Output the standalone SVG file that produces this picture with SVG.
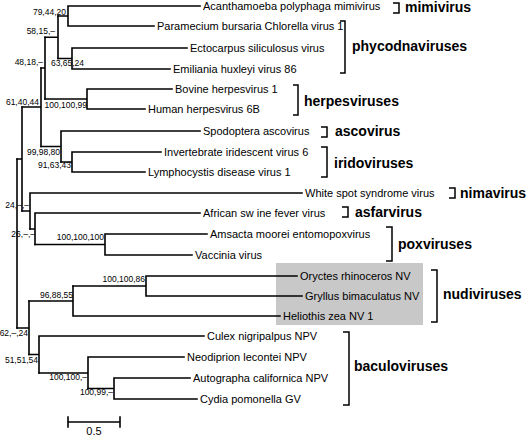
<svg xmlns="http://www.w3.org/2000/svg" width="528" height="438" viewBox="0 0 528 438">
<style>
.br{fill:none;stroke:#000;stroke-width:1.6;stroke-linecap:square}
.bk{fill:none;stroke:#000;stroke-width:1.5}
.lf{font-family:"Liberation Sans",Arial,sans-serif;font-size:11px;fill:#000}
.bs{font-family:"Liberation Sans",Arial,sans-serif;font-size:8.5px;fill:#000;text-anchor:end}
.cl{font-family:"Liberation Sans",Arial,sans-serif;font-size:14px;font-weight:bold;fill:#000}
</style>
<rect x="0" y="0" width="528" height="438" fill="#fff"/>
<rect id="nudi-box" x="276" y="263" width="147" height="62" fill="#c8c8c8"/>
<g id="connectors" class="br">
<path d="M17,159 V328"/>
<path d="M17,159 H22 M22,107 V211"/>
<path d="M22,107 H41 M41,68 V146.5"/>
<path d="M41,68 H45 M45,37.25 V99"/>
<path d="M45,37.25 H58 M58,16 V58.5"/>
<path d="M58,16 H68 M68,6 V26 M68,6 H200 M68,26 H154"/>
<path d="M58,58.5 H72 M72,48 V69 M72,48 H187 M72,69 H170"/>
<path d="M45,99 H87 M87,89 V109 M87,89 H172 M87,109 H145"/>
<path d="M41,146.5 H61 M61,131 V162 M61,131 H200"/>
<path d="M61,162 H72 M72,152 V172 M72,152 H161 M72,172 H145"/>
<path d="M22,211 H30 M30,193 V229 M30,193 H302"/>
<path d="M30,229 H35 M35,213 V244.5 M35,213 H200"/>
<path d="M35,244.5 H105 M105,234 V255 M105,234 H207 M105,255 H192"/>
<path d="M17,328 H29 M29,301 V354.5"/>
<path d="M29,301 H73 M73,286 V316 M73,316 H280"/>
<path d="M73,286 H146 M146,276 V296 M146,276 H297 M146,296 H302"/>
<path d="M29,354.5 H39 M39,336 V373 M39,336 H204"/>
<path d="M39,373 H88 M88,357 V388.5 M88,357 H184"/>
<path d="M88,388.5 H114 M114,378 V399 M114,378 H190 M114,399 H197"/>
</g>
<g id="support-values">
<text class="bs" x="66" y="15">79,44,20</text>
<text class="bs" x="55" y="34">58,15,–</text>
<text class="bs" x="43" y="65">48,18,–</text>
<text class="bs" x="84" y="66">63,65,24</text>
<text class="bs" x="39" y="105">61,40,44</text>
<text class="bs" x="87" y="108">100,100,99</text>
<text class="bs" x="60" y="155">99,98,80</text>
<text class="bs" x="71" y="168">91,63,43</text>
<text class="bs" x="29" y="208">24,–,–</text>
<text class="bs" x="35" y="237">26,–,–</text>
<text class="bs" x="104" y="240">100,100,100</text>
<text class="bs" x="145" y="282">100,100,86</text>
<text class="bs" x="73" y="298">96,88,55</text>
<text class="bs" x="28" y="336">62,–,24</text>
<text class="bs" x="38" y="363">51,51,54</text>
<text class="bs" x="87" y="380">100,100,–</text>
<text class="bs" x="113" y="395">100,99,–</text>
</g>
<g id="leaf-acanthamoeba"><text class="lf" x="203" y="10">Acanthamoeba polyphaga mimivirus</text></g>
<g id="leaf-paramecium"><text class="lf" x="157" y="30">Paramecium bursaria Chlorella virus 1</text></g>
<g id="leaf-ectocarpus"><text class="lf" x="190" y="52">Ectocarpus siliculosus virus</text></g>
<g id="leaf-emiliania"><text class="lf" x="173" y="73">Emiliania huxleyi virus 86</text></g>
<g id="leaf-bovine"><text class="lf" x="175" y="93">Bovine herpesvirus 1</text></g>
<g id="leaf-human"><text class="lf" x="148" y="113">Human herpesvirus 6B</text></g>
<g id="leaf-spodoptera"><text class="lf" x="203" y="135">Spodoptera ascovirus</text></g>
<g id="leaf-invertebrate"><text class="lf" x="164" y="156">Invertebrate iridescent virus 6</text></g>
<g id="leaf-lymphocystis"><text class="lf" x="148" y="176">Lymphocystis disease virus 1</text></g>
<g id="leaf-wssv"><text class="lf" x="305" y="197">White spot syndrome virus</text></g>
<g id="leaf-asfv"><text class="lf" x="203" y="217">African sw ine fever virus</text></g>
<g id="leaf-amsacta"><text class="lf" x="210" y="238">Amsacta moorei entomopoxvirus</text></g>
<g id="leaf-vaccinia"><text class="lf" x="195" y="259">Vaccinia virus</text></g>
<g id="leaf-oryctes"><text class="lf" x="300" y="280">Oryctes rhinoceros NV</text></g>
<g id="leaf-gryllus"><text class="lf" x="305" y="300">Gryllus bimaculatus NV</text></g>
<g id="leaf-heliothis"><text class="lf" x="283" y="320">Heliothis zea NV 1</text></g>
<g id="leaf-culex"><text class="lf" x="207" y="340">Culex nigripalpus NPV</text></g>
<g id="leaf-neodiprion"><text class="lf" x="187" y="361">Neodiprion lecontei NPV</text></g>
<g id="leaf-autographa"><text class="lf" x="193" y="382">Autographa californica NPV</text></g>
<g id="leaf-cydia"><text class="lf" x="200" y="403">Cydia pomonella GV</text></g>
<g id="clade-mimivirus"><path class="bk" d="M393,3 H399 V13 H393"/><text class="cl" x="405" y="12">mimivirus</text></g>
<g id="clade-phycodnaviruses"><path class="bk" d="M340,21 H345 V73 H340"/><text class="cl" x="352" y="51">phycodnaviruses</text></g>
<g id="clade-herpesviruses"><path class="bk" d="M293,85 H298 V115 H293"/><text class="cl" x="304" y="106">herpesviruses</text></g>
<g id="clade-ascovirus"><path class="bk" d="M321,127 H327 V137 H321"/><text class="cl" x="335" y="136">ascovirus</text></g>
<g id="clade-iridoviruses"><path class="bk" d="M321,147 H327 V177 H321"/><text class="cl" x="334" y="168">iridoviruses</text></g>
<g id="clade-nimavirus"><path class="bk" d="M449,188 H455 V198 H449"/><text class="cl" x="460" y="198">nimavirus</text></g>
<g id="clade-asfarvirus"><path class="bk" d="M342,207 H348 V217 H342"/><text class="cl" x="355" y="217">asfarvirus</text></g>
<g id="clade-poxviruses"><path class="bk" d="M386,227 H392 V261 H386"/><text class="cl" x="398" y="249">poxviruses</text></g>
<g id="clade-nudiviruses"><path class="bk" d="M431,270 H437 V322 H431"/><text class="cl" x="443" y="299">nudiviruses</text></g>
<g id="clade-baculoviruses"><path class="bk" d="M343,332 H349 V405 H343"/><text class="cl" x="354" y="371">baculoviruses</text></g>
<g id="scale-bar"><path class="br" d="M68,422 H120 M68,417 V427 M120,417 V427"/><text class="lf" x="94" y="435" text-anchor="middle">0.5</text></g>
</svg>
